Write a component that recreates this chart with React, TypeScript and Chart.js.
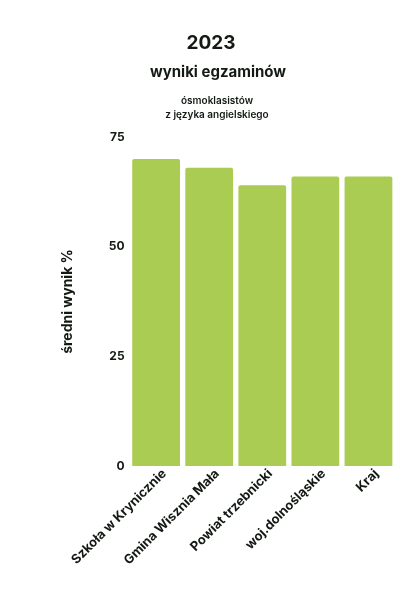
import React, { useEffect, useRef } from "react";
import { Chart, registerables } from "chart.js";

Chart.register(...registerables);

const categories = [
  "Szkoła w Krynicznie",
  "Gmina Wisznia Mała",
  "Powiat trzebnicki",
  "woj.dolnośląskie",
  "Kraj",
];
const values = [70, 68, 64, 66, 66];
const yMin = 0;
const yMax = 75;
const yStep = 25;
const titleText = "2023";
const subtitleText = "wyniki egzaminów";
const noteLines = ["ósmoklasistów", "z języka angielskiego"];
const yAxisTitle = "średni wynik %";

const FONT = "Inter, 'Open Sans', sans-serif";
const TEXT = "#131a13";
const GREEN = "#aacc52";

const headerPlugin = {
  id: "header",
  afterDraw(chart: any) {
    const ctx = chart.ctx;
    ctx.save();
    ctx.fillStyle = TEXT;
    ctx.textAlign = "center";
    ctx.textBaseline = "alphabetic";
    ctx.font = `700 19px ${FONT}`;
    ctx.fillText(titleText, 203, 41);
    ctx.font = `700 15px ${FONT}`;
    ctx.fillText(subtitleText, 210, 69);
    ctx.font = `600 10px ${FONT}`;
    ctx.fillText(noteLines[0], 209, 96);
    ctx.fillText(noteLines[1], 209, 110);
    ctx.restore();
  },
};

export default function App() {
  const ref = useRef<HTMLCanvasElement>(null);
  useEffect(() => {
    if (!ref.current) return;
    const chart = new Chart(ref.current, {
      type: "bar",
      data: {
        labels: categories,
        datasets: [
          {
            data: values,
            backgroundColor: GREEN,
            borderRadius: 2,
            borderSkipped: "bottom",
            categoryPercentage: 1,
            barPercentage: 0.9,
          },
        ],
      },
      options: {
        animation: false,
        responsive: true,
        maintainAspectRatio: false,
        layout: { padding: { top: 129, left: 51, right: 14, bottom: 14 } },
        plugins: {
          legend: { display: false },
          tooltip: { enabled: false },
          title: { display: false },
        },
        scales: {
          x: {
            grid: { display: false, drawTicks: false },
            border: { display: false },
            ticks: {
              minRotation: 45,
              maxRotation: 45,
              autoSkip: false,
              color: TEXT,
              padding: 0,
              labelOffset: 8,
              font: { family: FONT, size: 13, weight: "700" },
            },
          },
          y: {
            min: yMin,
            max: yMax,
            grid: { display: false, drawTicks: false },
            border: { display: false },
            ticks: {
              stepSize: yStep,
              color: TEXT,
              padding: 5,
              font: { family: FONT, size: 12, weight: "700" },
            },
            title: {
              display: true,
              text: yAxisTitle,
              color: TEXT,
              padding: { top: 0, bottom: 28 },
              font: { family: FONT, size: 14, weight: "700" },
            },
          },
        },
      },
      plugins: [headerPlugin],
    });
    return () => chart.destroy();
  }, []);
  return (
    <div style={{ position: "relative", width: 401, height: 574 }}>
      <canvas ref={ref} />
    </div>
  );
}
